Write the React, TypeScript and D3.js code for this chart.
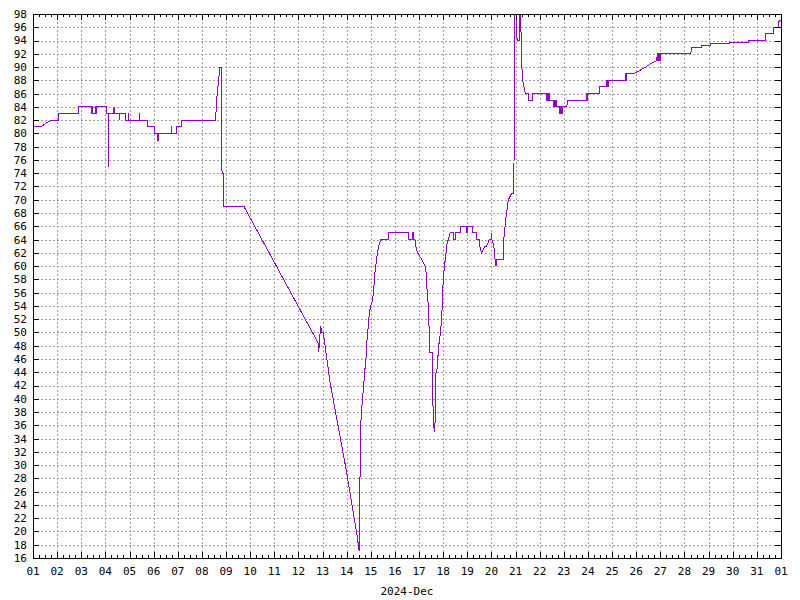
import * as d3 from 'd3';

// day offsets from 2024-12-01 00:00 and the reading at that moment
const readings: [number, number][] = [
  [0.0, 80.5], [0.02, 81], [0.32, 81], [0.45, 81.3], [0.6, 81.7], [0.77, 82], [1.05, 82], [1.05, 83],
  [1.88, 83], [1.88, 84], [2.42, 84], [2.42, 83], [2.44, 83], [2.44, 84], [2.47, 84], [2.47, 83],
  [2.6, 83], [2.6, 84], [2.61, 84], [2.61, 83], [2.64, 83], [2.64, 84],
  [3.05, 84], [3.05, 83], [3.11, 83], [3.12, 75], [3.13, 83], [3.35, 83], [3.36, 84], [3.37, 83],
  [3.57, 83], [3.58, 82], [3.59, 83], [3.85, 83], [3.85, 82], [3.94, 82], [3.95, 83], [3.96, 82],
  [4.4, 82], [4.41, 83], [4.42, 82],
  [4.74, 82], [4.74, 81], [5.03, 81], [5.03, 80], [5.15, 80], [5.15, 79], [5.21, 79], [5.21, 80],
  [5.74, 80], [5.74, 81], [5.76, 81], [5.76, 80], [5.95, 80], [5.95, 81], [6.15, 81], [6.15, 82],
  [7.56, 82], [7.58, 83], [7.61, 84], [7.63, 86], [7.68, 87.5], [7.72, 89], [7.75, 90], [7.82, 90],
  [7.82, 74.5], [7.86, 74], [7.88, 74], [7.88, 69],
  [8.74, 69], [11.82, 48.4], [11.84, 47], [11.92, 51], [11.96, 50], [12.03, 50], [12.31, 42.5],
  [13.0, 28.9], [13.41, 19.9], [13.52, 17],
  [13.55, 25.5], [13.56, 34.5], [13.62, 38.5], [13.66, 40], [13.72, 42.8], [13.77, 45], [13.8, 46],
  [13.83, 48], [13.85, 49.4], [13.9, 51], [13.94, 53], [14.0, 54], [14.08, 55], [14.13, 57],
  [14.17, 59], [14.24, 61], [14.27, 62], [14.33, 63], [14.41, 64],
  [14.72, 64], [14.72, 65], [15.55, 65], [15.55, 64], [15.73, 64], [15.73, 65], [15.75, 65],
  [15.75, 64], [15.83, 64], [15.86, 63], [15.94, 62], [16.11, 61], [16.25, 60], [16.29, 59],
  [16.32, 57], [16.36, 55], [16.4, 53.6], [16.42, 49.4], [16.45, 47], [16.54, 47], [16.55, 42.5],
  [16.59, 37.5], [16.63, 35], [16.67, 36.8], [16.7, 43.8], [16.77, 45], [16.8, 48], [16.84, 48.5],
  [16.9, 50.5], [16.94, 52.3], [17.0, 57.8], [17.06, 60.3], [17.1, 61.3], [17.14, 63], [17.21, 64],
  [17.28, 65],
  [17.42, 65], [17.42, 64], [17.5, 64], [17.5, 65], [17.7, 65], [17.7, 66], [17.98, 66], [17.98, 65],
  [18.0, 65], [18.0, 66], [18.22, 66], [18.22, 65], [18.36, 65], [18.36, 64], [18.52, 64],
  [18.52, 63], [18.59, 62], [18.73, 63], [18.8, 63], [18.91, 64], [19.0, 64], [19.01, 65],
  [19.02, 64], [19.1, 63], [19.15, 61], [19.19, 60], [19.21, 61], [19.49, 61], [19.52, 64.4],
  [19.59, 67], [19.63, 68], [19.7, 70], [19.84, 71], [19.93, 71],
  [19.96, 98], [20.04, 98], [20.04, 95], [20.07, 94], [20.15, 94], [20.15, 98], [20.21, 98],
  [20.25, 91], [20.29, 88], [20.35, 87], [20.4, 86], [20.53, 86], [20.55, 85], [20.69, 85],
  [20.71, 86],
  [21.29, 86], [21.29, 85], [21.32, 85], [21.32, 86], [21.35, 86], [21.35, 85], [21.39, 85],
  [21.39, 86], [21.42, 86], [21.42, 85], [21.56, 85], [21.56, 84], [21.6, 84], [21.6, 85],
  [21.64, 85], [21.64, 84], [21.67, 84], [21.67, 85], [21.7, 85], [21.7, 84],
  [21.84, 84], [21.84, 83], [21.88, 83], [21.88, 84], [21.91, 84], [21.91, 83], [21.95, 83],
  [21.95, 84], [22.12, 84], [22.16, 85],
  [22.92, 85], [22.92, 86], [22.95, 86], [22.95, 85], [22.99, 85], [22.99, 86], [23.03, 86],
  [23.47, 86], [23.47, 87], [23.78, 87], [23.78, 88], [23.82, 88], [23.82, 87], [23.86, 87],
  [23.86, 88], [24.55, 88], [24.55, 89], [24.58, 89], [24.58, 88], [24.6, 88], [24.6, 89],
  [24.88, 89], [25.1, 89.4], [25.35, 89.9], [25.6, 90.5], [25.85, 91],
  [25.87, 92], [25.9, 92], [25.9, 91], [25.94, 91], [25.94, 92], [25.97, 92], [25.97, 91],
  [26.01, 91], [26.01, 92],
  [27.26, 92], [27.3, 93], [27.71, 93], [27.71, 93.3], [28.08, 93.3], [28.08, 93.5], [28.88, 93.5],
  [28.88, 93.7], [29.64, 93.7], [29.64, 94], [30.36, 94], [30.36, 95], [30.68, 95], [30.68, 96],
  [30.9, 96], [30.92, 97], [31.0, 97],
];

const dayLabels = [
  '01', '02', '03', '04', '05', '06', '07', '08', '09', '10', '11', '12', '13', '14', '15', '16',
  '17', '18', '19', '20', '21', '22', '23', '24', '25', '26', '27', '28', '29', '30', '31', '01',
];

const yTicks = [
  16, 18, 20, 22, 24, 26, 28, 30, 32, 34, 36, 38, 40, 42, 44, 46, 48, 50, 52, 54, 56, 58, 60,
  62, 64, 66, 68, 70, 72, 74, 76, 78, 80, 82, 84, 86, 88, 90, 92, 94, 96, 98,
];

const monthLabel = '2024-Dec';

const W = 800;
const H = 600;
const plot = { left: 33, right: 781, top: 14, bottom: 558 };
const font = '"DejaVu Sans Mono", monospace';

export default function App() {
  const x = d3.scaleLinear().domain([0, dayLabels.length - 1]).range([plot.left, plot.right]);
  const y = d3.scaleLinear().domain([16, 98]).range([plot.bottom, plot.top]);

  const line = d3
    .line<[number, number]>()
    .x((d) => x(d[0]))
    .y((d) => y(d[1]));

  const minor = d3.range(0, dayLabels.length - 1 + 0.001, 0.25);
  const px = (v: number) => Math.round(v) + 0.5;

  return (
    <svg
      width={W}
      height={H}
      style={{ position: 'absolute', left: 0, top: 0, background: '#fff' }}
      fontFamily={font}
      fontSize={11}
    >
      <rect width={W} height={H} fill="#fff" />
      <g stroke="#a0a0a0" strokeDasharray="2,2" shapeRendering="crispEdges">
        {dayLabels.slice(1, -1).map((_, i) => (
          <line key={'gx' + i} x1={px(x(i + 1))} x2={px(x(i + 1))} y1={plot.top} y2={plot.bottom} />
        ))}
        {yTicks.slice(1, -1).map((t) => (
          <line key={'gy' + t} x1={plot.left} x2={plot.right} y1={px(y(t))} y2={px(y(t))} />
        ))}
      </g>

      <path
        d={line(readings) ?? ''}
        fill="none"
        stroke="#9400d3"
        strokeWidth={1}
        shapeRendering="crispEdges"
      />

      <g stroke="#000" shapeRendering="crispEdges">
        {minor.map((m, i) => {
          const len = i % 4 === 0 ? 6 : 3;
          const xx = px(x(m));
          return (
            <g key={'t' + i}>
              <line x1={xx} x2={xx} y1={plot.bottom} y2={plot.bottom - len} />
              <line x1={xx} x2={xx} y1={plot.top} y2={plot.top + len} />
            </g>
          );
        })}
        {yTicks.map((t) => (
          <g key={'yt' + t}>
            <line x1={plot.left} x2={plot.left + 6} y1={px(y(t))} y2={px(y(t))} />
            <line x1={plot.right - 6} x2={plot.right} y1={px(y(t))} y2={px(y(t))} />
          </g>
        ))}
        <rect
          x={px(plot.left)}
          y={px(plot.top)}
          width={plot.right - plot.left}
          height={plot.bottom - plot.top}
          fill="none"
        />
      </g>

      <g fill="#000">
        {yTicks.map((t) => (
          <text key={'yl' + t} x={27} y={y(t)} dy="0.36em" textAnchor="end">
            {t}
          </text>
        ))}
        {dayLabels.map((d, i) => (
          <text key={'xl' + i} x={x(i)} y={575} textAnchor="middle">
            {d}
          </text>
        ))}
        <text x={(plot.left + plot.right) / 2} y={595} textAnchor="middle">
          {monthLabel}
        </text>
      </g>
    </svg>
  );
}
